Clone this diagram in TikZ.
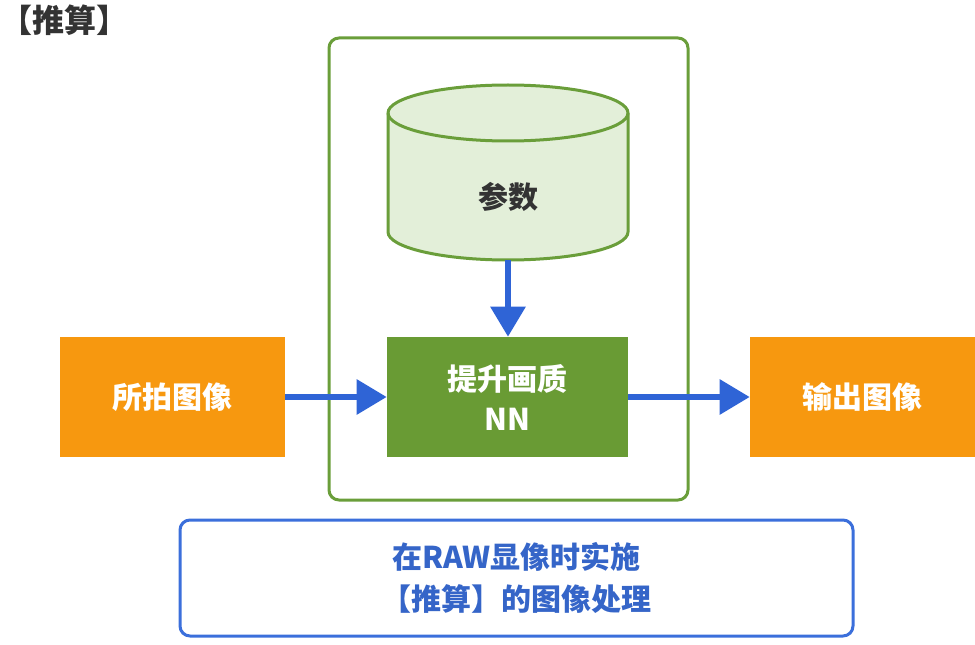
\documentclass[tikz,border=0pt]{standalone}
\usepackage{fontspec}
\setmainfont{Noto Sans CJK SC}
\usetikzlibrary{arrows.meta}
\definecolor{gstroke}{HTML}{6A9E3A}
\definecolor{gfill}{HTML}{699B34}
\definecolor{cylfill}{HTML}{E3EFD9}
\definecolor{orng}{HTML}{F7980F}
\definecolor{arrblue}{HTML}{2F64D6}
\definecolor{boxblue}{HTML}{3B6FDB}
\definecolor{txtblue}{HTML}{3565C8}
\definecolor{dark}{HTML}{333333}
\begin{document}
\begin{tikzpicture}[x=0.75pt,y=0.75pt,
  txt/.style={font=\bfseries\fontsize{22.5}{30}\selectfont, align=center},
  orangebox/.style={fill=orng, draw=none, minimum width=168.75pt, minimum height=90pt, text=white, txt},
  nnbox/.style={fill=gfill, draw=none, minimum width=180.75pt, minimum height=90pt, text=white, txt},
  frame/.style={draw=gstroke, line width=2.25pt, rounded corners=7.5pt},
  notebox/.style={draw=boxblue, line width=2.25pt, rounded corners=7.5pt, minimum width=504.75pt, minimum height=87pt, text=txtblue, font=\bfseries\fontsize{22.5}{31.5}\selectfont, align=center},
  flow/.style={draw=arrblue, fill=arrblue, line width=4.5pt, -{Triangle[width=25.5pt,length=22.5pt]}},
  cyl/.style={draw=gstroke, line width=2.25pt}
]
\useasboundingbox (0,0) rectangle (975,644);

% title
\node[anchor=west, text=dark, font=\bfseries\fontsize{24}{28}\selectfont, inner sep=0pt] (title) at (0,624) {【推算】};

% outer green frame
\node[frame, minimum width=269.25pt, minimum height=346.5pt] (group) at (508.5,375) {};

% cylinder
\fill[cylfill] (388,531) -- (388,412) arc[start angle=180, end angle=360, x radius=90pt, y radius=21pt]
  -- (628,531) arc[start angle=0, end angle=180, x radius=90pt, y radius=21pt] -- cycle;
\draw[cyl] (388,531) -- (388,412) arc[start angle=180, end angle=360, x radius=90pt, y radius=21pt]
  -- (628,531) arc[start angle=0, end angle=180, x radius=90pt, y radius=21pt] -- cycle;
\draw[cyl] (388,531) arc[start angle=180, end angle=360, x radius=90pt, y radius=21pt];
\node[text=dark, txt] (param) at (508,447) {参数};
\coordinate (cylbot) at (508,384);

% boxes
\node[orangebox] (shot) at (172.5,247) {所拍图像};
\node[nnbox] (nn) at (507.5,247) {提升画质\\NN};
\node[orangebox] (out) at (862.5,247) {输出图像};

% arrows
\draw[flow] (cylbot) -- (cylbot |- nn.north);
\draw[flow] (shot.east) -- (nn.west);
\draw[flow] (nn.east) -- (out.west);

% note
\node[notebox] (note) at (516.5,66) {在RAW显像时实施\\【推算】的图像处理};
\end{tikzpicture}
\end{document}
